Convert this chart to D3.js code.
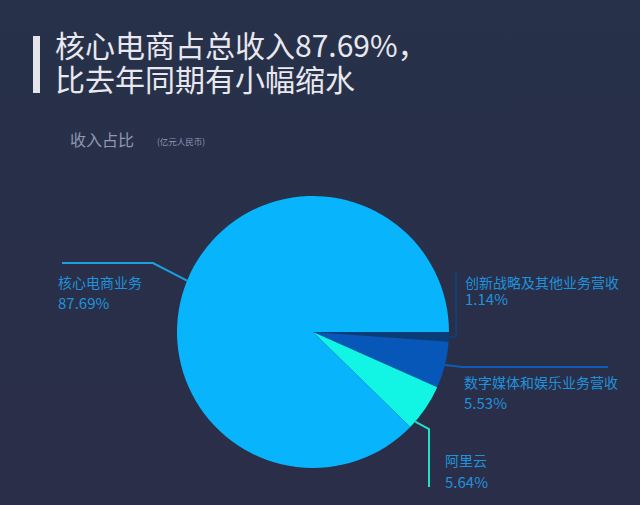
<!DOCTYPE html>
<html><head><meta charset="utf-8">
<script src="https://cdn.jsdelivr.net/npm/d3@7"></script>
<style>
html,body{margin:0;padding:0;background:#2a2f4a;}
svg{display:block;font-family:"Noto Sans CJK SC","Noto Sans",sans-serif;}
</style></head>
<body>
<svg id="c" width="640" height="505"></svg>
<script>
const categories = ["创新战略及其他业务营收","数字媒体和娱乐业务营收","阿里云","核心电商业务"];
const values = [1.14, 5.53, 5.64, 87.69];
const valueLabels = ["1.14%","5.53%","5.64%","87.69%"];
const titleLines = ["核心电商占总收入87.69%，","比去年同期有小幅缩水"];
const subtitle = "收入占比";
const unitNote = "(亿元人民币)";

const colors = ["#0a3d78","#0657b8","#12f5e4","#08b4fb"];
const lineColors = ["#123e74","#0f5cb8","#22e0c4","#1aa0e0"];

const svg = d3.select("#c");
const W = 640, H = 505;

// background
const bg = svg.append("defs").append("linearGradient").attr("id","bg").attr("x1",0).attr("y1",0).attr("x2",0).attr("y2",1);
bg.append("stop").attr("offset","0%").attr("stop-color","#27314a");
bg.append("stop").attr("offset","100%").attr("stop-color","#2b2e48");
svg.append("rect").attr("width",W).attr("height",H).attr("fill","url(#bg)");

// title (one text element, two lines)
svg.append("rect").attr("x",33).attr("y",36).attr("width",7).attr("height",57).attr("fill","#e4e4ea");
const title = svg.append("text").attr("x",55).attr("y",57).attr("font-size",30).attr("fill","#e8e8ee");
title.append("tspan").attr("x",55).attr("y",57).text(titleLines[0]);
title.append("tspan").attr("x",55).attr("y",91).text(titleLines[1]);

// subtitle
svg.append("text").attr("x",70).attr("y",146).attr("font-size",16).attr("fill","#8f98b4").text(subtitle);
svg.append("text").attr("x",157).attr("y",145).attr("font-size",8.5).attr("fill","#8f98b4").text(unitNote);

// pie
const cx = 313, cy = 332, R = 136;
const pie = d3.pie().sort(null).startAngle(Math.PI/2).endAngle(Math.PI/2 + 2*Math.PI);
const arcs = pie(values);
const arc = d3.arc().innerRadius(0).outerRadius(R);
const g = svg.append("g").attr("transform",`translate(${cx},${cy})`);
g.selectAll("path").data(arcs).join("path").attr("d",arc).attr("fill",(d,i)=>colors[i]);

function pt(a, r){ return [cx + r*Math.sin(a), cy - r*Math.cos(a)]; }
function anchorAngle(d, f){ return d.startAngle + f*(d.endAngle - d.startAngle); }

// leader lines
const L = svg.append("g").attr("fill","none").attr("stroke-width",2);
{
  const p = pt(anchorAngle(arcs[0],0.5), R);
  L.append("polyline").attr("stroke",lineColors[0])
    .attr("points",[p,[456,p[1]],[456,273]].map(q=>q.join(",")).join(" "));
}
{
  const p = pt(anchorAngle(arcs[1],0.5), R);
  L.append("polyline").attr("stroke",lineColors[1])
    .attr("points",[p,[462,367],[608,367]].map(q=>q.join(",")).join(" "));
}
{
  const p = pt(anchorAngle(arcs[2],0.85), R);
  L.append("polyline").attr("stroke",lineColors[2])
    .attr("points",[p,[429,429],[429,487]].map(q=>q.join(",")).join(" "));
}
{
  const p = pt(anchorAngle(arcs[3],0.5), R);
  L.append("polyline").attr("stroke",lineColors[3])
    .attr("points",[p,[153,263],[62,263]].map(q=>q.join(",")).join(" "));
}

// labels (category + value in one text element)
const labelPos = [[465,288,305],[464,388,409],[445,466,488],[58,288,309]];
const labelColor = "#1f92dc";
categories.forEach((c,i)=>{
  const [x,y1,y2] = labelPos[i];
  const t = svg.append("text").attr("x",x).attr("y",y1).attr("fill",labelColor);
  t.append("tspan").attr("x",x).attr("y",y1).attr("font-size",14).text(c);
  t.append("tspan").attr("x",x).attr("y",y2).attr("font-size",15).text(valueLabels[i]);
});
</script>
</body></html>
